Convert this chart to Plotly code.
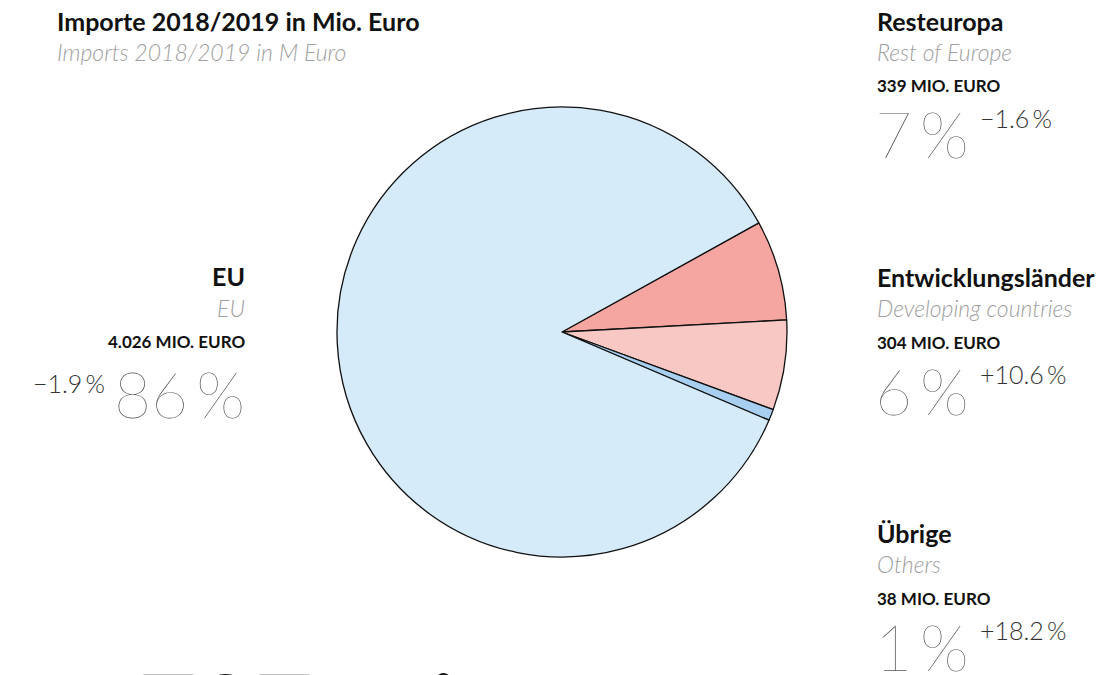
import plotly.graph_objects as go

# Importe 2018/2019, Mio. Euro
regions_de = ["Resteuropa", "Entwicklungsländer", "Übrige", "EU"]
regions_en = ["Rest of Europe", "Developing countries", "Others", "EU"]
values = [339, 304, 38, 4026]
changes = ["−1.6\u2009%", "+10.6\u2009%", "+18.2\u2009%", "−1.9\u2009%"]
title_de = "Importe 2018/2019 in Mio. Euro"
title_en = "Imports 2018/2019 in M Euro"
colors = ["#f5a6a0", "#f8c8c4", "#a8cff0", "#d5ebfa"]

W, H = 1107, 675
FONT = "Lato"
OFF = 8  # the page body adds a small margin round the plot


def px(x, pad=0):
    return (x - OFF - pad) / W


def py(y):
    return 1 - (y - OFF) / H


def fmt_mio(v):
    # german thousands separator
    return f"{v:,}".replace(",", ".") + " MIO. EURO"


total = sum(values)
shares = [round(v / total * 100) for v in values]

fig = go.Figure(go.Pie(
    labels=regions_de,
    values=values,
    sort=False,
    direction="clockwise",
    rotation=61,
    marker=dict(colors=colors, line=dict(color="#111111", width=1.3)),
    textinfo="none",
    hoverinfo="label+value+percent",
    showlegend=False,
    domain=dict(x=[px(337), px(787)], y=[py(557), py(107)]),
))

ann = []


def add(text, x, y, size, color="#111111", anchor="left", weight="normal", style="normal"):
    pad = 2 if anchor == "left" else -2
    ann.append(dict(text=text, x=px(x, pad), y=py(y), xref="paper", yref="paper",
                    xanchor=anchor, yanchor="middle", showarrow=False,
                    font=dict(family=FONT, size=size, color=color, weight=weight, style=style)))


# title block
add(title_de, 57, 21, 25, weight="bold")
add(title_en, 57, 52, 23, color="#a0a0a0", weight=300, style="italic")

# right hand blocks: Resteuropa, Entwicklungsländer, Übrige
tops = [21, 277, 533]
for i in range(3):
    t = tops[i]
    add(regions_de[i], 877, t, 25, weight="bold")
    add(regions_en[i], 877, t + 31, 23, color="#a0a0a0", weight=300, style="italic")
    add(fmt_mio(values[i]), 877, t + 65, 17, weight="bold")
    add(f"{shares[i]}\u2009%", 875, t + 113, 64, color="#555555", weight=100)
    add(changes[i], 980, t + 97, 25, color="#333333", weight=300)

# EU block on the left, right aligned
add(regions_de[3], 245, 276, 25, anchor="right", weight="bold")
add(regions_en[3], 245, 308, 23, anchor="right", color="#a0a0a0", weight=300, style="italic")
add(fmt_mio(values[3]), 245, 341, 17, anchor="right", weight="bold")
add(f"{shares[3]}\u2009%", 245, 393, 64, anchor="right", color="#555555", weight=100)
add(changes[3], 105, 383, 25, anchor="right", color="#333333", weight=300)

# big total at the bottom, cut off by the page edge
add(f"{total:,}".replace(",", ".") + " Mio. Euro", 57, 708, 100, weight="bold")

fig.update_layout(
    width=W, height=H,
    margin=dict(l=0, r=0, t=0, b=0),
    paper_bgcolor="white",
    plot_bgcolor="white",
    annotations=ann,
)

fig.write_html("out.html")
